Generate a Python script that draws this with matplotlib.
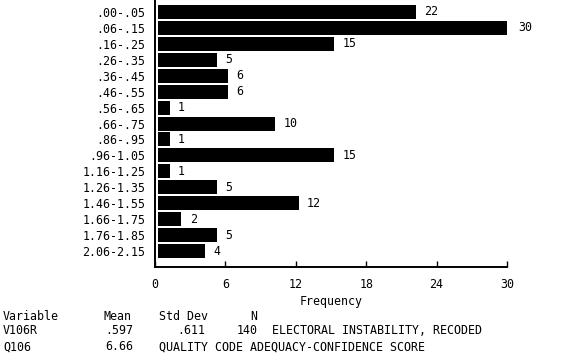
import matplotlib
matplotlib.use("Agg")
import matplotlib.pyplot as plt

categories = [".00-.05", ".06-.15", ".16-.25", ".26-.35", ".36-.45", ".46-.55",
              ".56-.65", ".66-.75", ".86-.95", ".96-1.05", "1.16-1.25", "1.26-1.35",
              "1.46-1.55", "1.66-1.75", "1.76-1.85", "2.06-2.15"]
counts = [22, 30, 15, 5, 6, 6, 1, 10, 1, 15, 1, 5, 12, 2, 5, 4]
xticks = [0, 6, 12, 18, 24, 30]

stats_header = ["Variable", "Mean", "Std Dev", "N"]
row1 = ["V106R", ".597", ".611", "140", "ELECTORAL INSTABILITY, RECODED"]
row2 = ["Q106", "6.66", "QUALITY CODE ADEQUACY-CONFIDENCE SCORE"]

FS = 8.4
plt.rcParams['font.family'] = ['DejaVu Sans Mono']
plt.rcParams['font.size'] = FS

fig = plt.figure(figsize=(5.8, 3.59), dpi=100)
ax = fig.add_axes([155/580, 1 - 267/359, (507-155)/580, 267/359])

ypos = list(range(len(categories)))
ax.barh(ypos, counts, height=0.88, color='black', left=0.25)
for y, v in zip(ypos, counts):
    ax.annotate(str(v), (v + 0.25, y), xytext=(6, 0), textcoords='offset points',
                va='center', ha='left', fontsize=FS, annotation_clip=False)

ax.set_ylim(len(categories), -0.75)
ax.set_xlim(0, 30)
ax.set_yticks(ypos)
ax.set_yticklabels(categories)
ax.set_xticks(xticks)
ax.set_xticklabels([str(t) for t in xticks])
ax.tick_params(axis='y', length=0, pad=7)
ax.tick_params(axis='x', direction='in', length=4, width=1, pad=8)
for s in ['top', 'right']:
    ax.spines[s].set_visible(False)
for s in ['left', 'bottom']:
    ax.spines[s].set_linewidth(1.4)
ax.set_xlabel("Frequency", labelpad=3, fontsize=FS)

def t(x, y, s):
    fig.text(x/580, 1 - y/359, s, fontsize=FS, va='center', ha='left')

t(3, 316, stats_header[0]); t(103, 316, stats_header[1]); t(159, 316, stats_header[2]); t(250, 316, stats_header[3])
t(3, 331, row1[0]); t(105, 331, row1[1]); t(177, 331, row1[2]); t(237, 331, row1[3]); t(272, 331, row1[4])
t(3, 347, row2[0]); t(105, 347, row2[1]); t(159, 347, row2[2])

fig.savefig("out.png", dpi=100)
